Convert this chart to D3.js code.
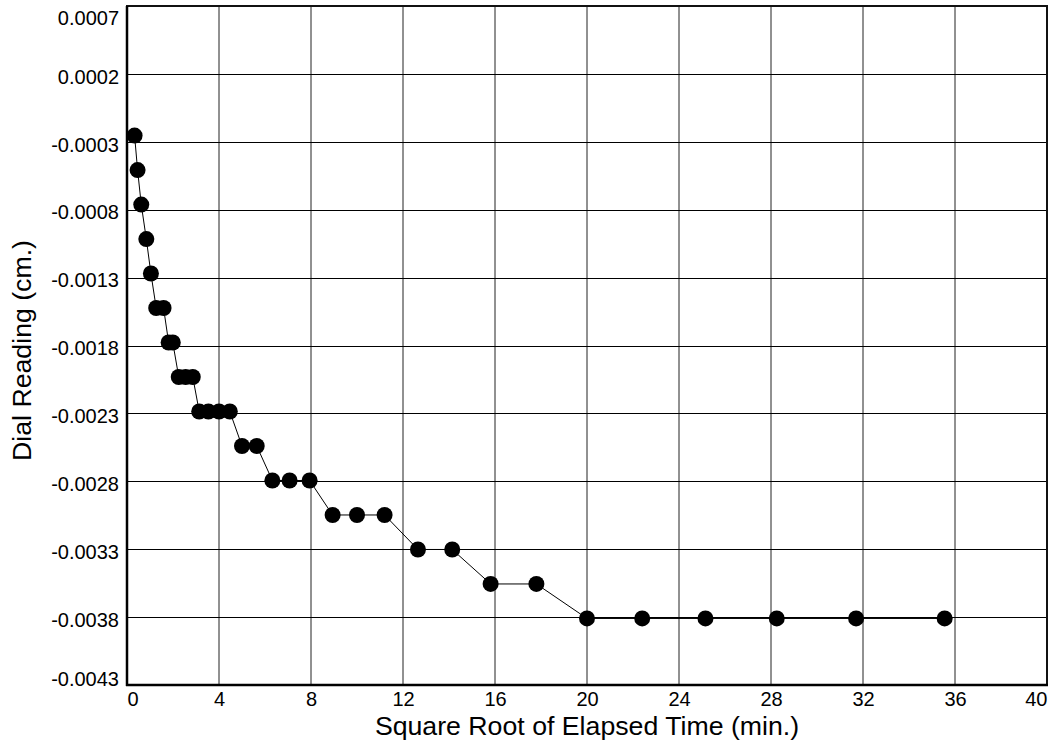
<!DOCTYPE html>
<html>
<head>
<meta charset="utf-8">
<script src="https://cdn.jsdelivr.net/npm/d3@7"></script>
<style>
  html, body { margin: 0; padding: 0; background: #fff; }
  svg { display: block; font-family: "Liberation Sans", Arial, Helvetica, sans-serif; }
</style>
</head>
<body>
<svg id="chart" width="1049" height="747"></svg>
<script>
// Square root of elapsed time (min^0.5) for each dial reading
const sqrtTime = [
  0.33, 0.46, 0.62, 0.84, 1.04, 1.27, 1.59, 1.81, 1.99,
  2.25, 2.55, 2.86, 3.14, 3.54, 4.0, 4.47, 5.0, 5.64,
  6.32, 7.07, 7.94, 8.94, 10.0, 11.2, 12.65, 14.14,
  15.81, 17.8, 20.0, 22.4, 25.15, 28.25, 31.7, 35.55
];
// Dial readings (cm.)
const dialReading = [
  -0.000254, -0.000508, -0.000762, -0.001016, -0.00127, -0.001524, -0.001524, -0.001778, -0.001778,
  -0.002032, -0.002032, -0.002032, -0.002286, -0.002286, -0.002286, -0.002286, -0.00254, -0.00254,
  -0.002794, -0.002794, -0.002794, -0.003048, -0.003048, -0.003048, -0.003302, -0.003302,
  -0.003556, -0.003556, -0.00381, -0.00381, -0.00381, -0.00381, -0.00381, -0.00381
];
// Axis ticks
const xTicks = [0, 4, 8, 12, 16, 20, 24, 28, 32, 36, 40];
const yTicks = [0.0007, 0.0002, -0.0003, -0.0008, -0.0013, -0.0018, -0.0023, -0.0028, -0.0033, -0.0038, -0.0043];
const xTitle = "Square Root of Elapsed Time (min.)";
const yTitle = "Dial Reading (cm.)";

const plotL = 127, plotR = 1047, plotT = 6, plotB = 685;
const svg = d3.select("#chart");

const x = d3.scaleLinear().domain([0, 40]).range([plotL, plotR]);
const y = d3.scaleLinear().domain([-0.0043, 0.0007]).range([plotB, plotT]);

// Plain hyphen-minus for negative tick labels
const fmtY = d3.formatLocale({ decimal: ".", thousands: ",", grouping: [3], currency: ["", ""], minus: "-" }).format(".4f");

// Grid
const grid = svg.append("g");
grid.selectAll("line.v").data(xTicks).join("line")
  .attr("x1", d => x(d)).attr("x2", d => x(d))
  .attr("y1", plotT).attr("y2", plotB)
  .attr("stroke", "#222").attr("stroke-width", 1);
grid.selectAll("line.h").data(yTicks).join("line")
  .attr("x1", plotL).attr("x2", plotR)
  .attr("y1", d => Math.round(y(d)) + 0.5).attr("y2", d => Math.round(y(d)) + 0.5)
  .attr("stroke", "#000").attr("stroke-width", 1);

// Frame
svg.append("rect")
  .attr("x", plotL).attr("y", plotT)
  .attr("width", plotR - plotL).attr("height", plotB - plotT)
  .attr("fill", "none").attr("stroke", "#111").attr("stroke-width", 2);
svg.append("line").attr("x1", plotL).attr("x2", plotL).attr("y1", plotT).attr("y2", plotB + 1)
  .attr("stroke", "#000").attr("stroke-width", 2.5);
svg.append("line").attr("x1", plotL - 1).attr("x2", plotR + 1).attr("y1", plotB).attr("y2", plotB)
  .attr("stroke", "#000").attr("stroke-width", 2.5);

// X tick labels
const xAxis = d3.axisBottom(x).tickValues(xTicks).tickSize(0).tickPadding(0).tickFormat(d3.format("d"));
const gx = svg.append("g").attr("transform", `translate(0,${plotB})`).call(xAxis);
gx.select(".domain").remove();
gx.selectAll("text")
  .attr("y", 21).attr("dy", null)
  .attr("font-size", 20).attr("font-family", "Liberation Sans, Arial, sans-serif").attr("fill", "#000")
  .attr("text-anchor", (d, i) => i === 0 ? "start" : (i === xTicks.length - 1 ? "end" : "middle"));

// Y tick labels (end labels kept inside the frame height)
const yAxis = d3.axisLeft(y).tickValues(yTicks).tickSize(0).tickPadding(8).tickFormat(fmtY);
const gy = svg.append("g").attr("transform", `translate(${plotL},0)`).call(yAxis);
gy.select(".domain").remove();
gy.selectAll("text")
  .attr("dy", (d, i) => i === 0 ? "0.9em" : (i === yTicks.length - 1 ? "0em" : "0.46em"))
  .attr("font-size", 20).attr("font-family", "Liberation Sans, Arial, sans-serif").attr("fill", "#000")
  .attr("x", -8);

// Axis titles
svg.append("text")
  .attr("x", (plotL + plotR) / 2).attr("y", 735)
  .attr("text-anchor", "middle").attr("font-size", 26.7).attr("fill", "#000")
  .text(xTitle);
svg.append("text")
  .attr("transform", `translate(31,${(plotT + plotB) / 2 + 5}) rotate(-90)`)
  .attr("text-anchor", "middle").attr("font-size", 26.7).attr("fill", "#000")
  .text(yTitle);

// Data line and markers
const pts = sqrtTime.map((t, i) => [t, dialReading[i]]);
svg.append("path")
  .datum(pts)
  .attr("fill", "none").attr("stroke", "#000").attr("stroke-width", 1)
  .attr("d", d3.line().x(d => x(d[0])).y(d => y(d[1])));
svg.append("g").selectAll("circle").data(pts).join("circle")
  .attr("cx", d => x(d[0])).attr("cy", d => y(d[1]))
  .attr("r", 8).attr("fill", "#000");
</script>
</body>
</html>
